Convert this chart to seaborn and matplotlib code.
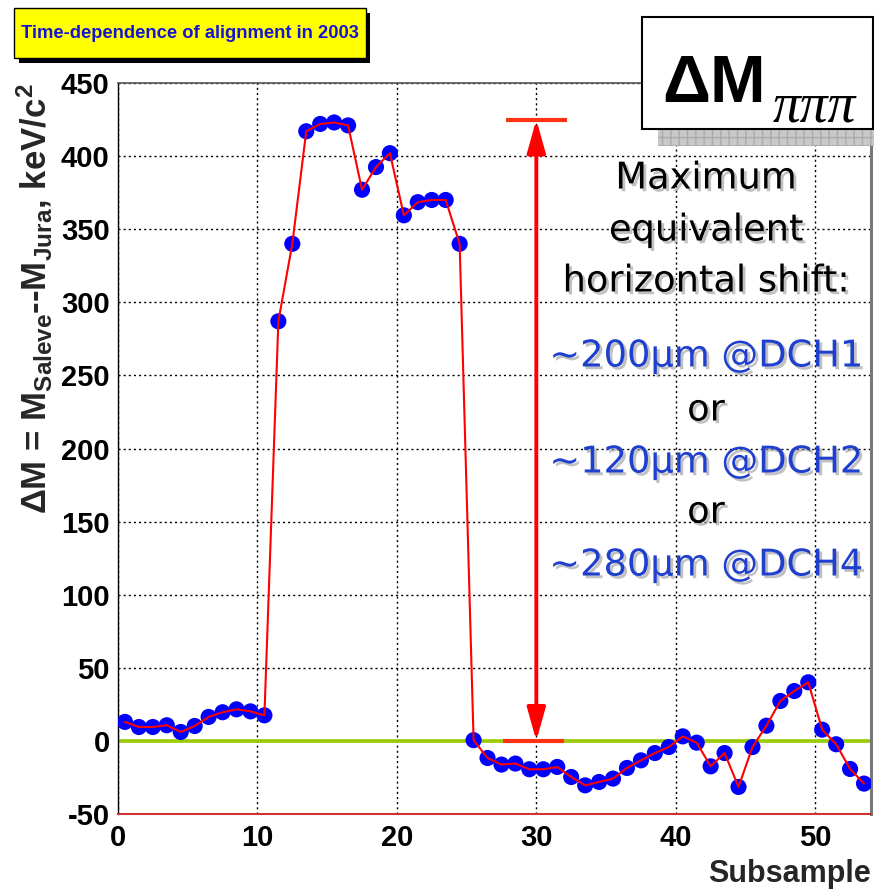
import matplotlib
matplotlib.use("Agg")
import matplotlib.pyplot as plt
import seaborn as sns
import numpy as np
import pandas as pd
from matplotlib.patches import Rectangle
from matplotlib import patheffects as pe

# ---------------- data ----------------
subsample = np.arange(0.5, 54, 1.0)  # bin centres 0.5 .. 53.5
delta_m = [13, 9.5, 9.5, 10.7, 6.1, 10.2, 16.4, 19.6, 21.6, 20.2, 17.5,
           287, 340, 417, 422, 423, 421, 377, 392.5, 402, 359.5, 368.5, 370, 370, 340,
           0.5, -11.7, -16.2, -15.5, -19.4, -19.4, -17.8, -24.7, -30.4, -28.1,
           -25.8, -18.5, -13.3, -8.3, -4.2, 3.1, -1.2, -17.4, -8.3, -31.5,
           -4.2, 10.4, 27.3, 34.1, 40.1, 7.7, -2.3, -19.2, -29.2]
xticks = [0, 10, 20, 30, 40, 50]
yticks = [-50, 0, 50, 100, 150, 200, 250, 300, 350, 400, 450]
arrow_x = 30
arrow_top = 425
arrow_bottom = 0

title_text = "Time-dependence of alignment in 2003"
ylabel_text = "ΔM = M$_{\\rm Saleve}$--M$_{\\rm Jura}$, keV/c$^{\\rm 2}$"
xlabel_text = "Subsample"
note_black = ["Maximum", "equivalent", "horizontal shift:"]
note_lines = [("~200μm @DCH1", "blue"), ("or", "black"), ("~120μm @DCH2", "blue"),
              ("or", "black"), ("~280μm @DCH4", "blue")]

df = pd.DataFrame({"subsample": subsample, "dm": delta_m})

# ---------------- style ----------------
sns.set_theme(style="white")
plt.rcParams["font.family"] = ["Liberation Sans", "DejaVu Sans"]
plt.rcParams["axes.unicode_minus"] = False
plt.rcParams["mathtext.fontset"] = "custom"
plt.rcParams["mathtext.rm"] = "Liberation Sans:bold"
plt.rcParams["mathtext.bf"] = "Liberation Sans:bold"
plt.rcParams["mathtext.it"] = "Liberation Sans:bold:italic"

W, H = 874, 889
fig = plt.figure(figsize=(W / 100, H / 100), dpi=100)
fig.patch.set_facecolor("white")

def fx(px):
    return px / W

def fy(py):
    return 1 - py / H

ax = fig.add_axes([fx(118), fy(814), fx(871) - fx(118), fy(83) - fy(814)])
ax.set_facecolor("white")
ax.set_xlim(0, 54)
ax.set_ylim(-50, 450)

# grid
ax.set_xticks(xticks)
ax.set_yticks(yticks)
ax.set_xticks(np.arange(0, 55, 2), minor=True)
ax.set_yticks(np.arange(-50, 451, 10), minor=True)
ax.grid(True, which="major", color="black", linestyle=(0, (1.5, 2.2)), linewidth=1.0, zorder=0)
ax.set_axisbelow(True)

# zero line
ax.axhline(0, color="#99cc00", lw=2.6, zorder=2)

# data
sns.scatterplot(data=df, x="subsample", y="dm", ax=ax, color="#0000ff", s=135,
                edgecolor="none", zorder=3, legend=False)
sns.lineplot(data=df, x="subsample", y="dm", ax=ax, color="#ff0000", lw=1.5,
             zorder=4, legend=False)

# arrow and bars
ax.annotate("", xy=(arrow_x, arrow_bottom), xytext=(arrow_x, arrow_top),
            arrowprops=dict(arrowstyle="<|-|>,head_length=1.0,head_width=0.28",
                            color="#ff0000", lw=2.8, mutation_scale=20,
                            shrinkA=0, shrinkB=0), zorder=6)
ax.plot([arrow_x - 2.2, arrow_x + 2.2], [arrow_top, arrow_top], color="#ff3311",
        lw=3, solid_capstyle="butt", zorder=6)
ax.plot([arrow_x - 2.4, arrow_x + 2.0], [arrow_bottom, arrow_bottom], color="#ff3311",
        lw=3, solid_capstyle="butt", zorder=6)

# spines / ticks
for s in ["left", "top", "right", "bottom"]:
    ax.spines[s].set_visible(True)
ax.spines["left"].set_color("black")
ax.spines["left"].set_linewidth(1.0)
ax.spines["top"].set_color("#555555")
ax.spines["top"].set_linewidth(1.2)
ax.spines["right"].set_color("#777777")
ax.spines["right"].set_linewidth(2.2)
ax.spines["bottom"].set_color("#cc3333")
ax.spines["bottom"].set_linewidth(1.5)

ax.tick_params(axis="both", which="both", direction="in", colors="black")
ax.tick_params(axis="x", which="major", length=18, width=1.0, pad=7, labelsize=21)
ax.tick_params(axis="x", which="minor", length=8, width=1.0)
ax.tick_params(axis="y", which="major", length=14, width=1.0, pad=6, labelsize=21)
ax.tick_params(axis="y", which="minor", length=7, width=1.0)
ax.set_xticklabels([str(t) for t in xticks], fontweight="bold")
ax.set_yticklabels([str(t) for t in yticks], fontweight="bold")
ax.set_xlabel("")
ax.set_ylabel(ylabel_text, fontsize=25, fontweight="bold", loc="top")
ax.yaxis.set_label_coords(-0.085, 1.0)

fig.text(fx(871), fy(882), xlabel_text, ha="right", va="baseline",
         fontsize=22, fontweight="bold")

# title box
fig.add_artist(Rectangle((fx(19), fy(63)), fx(370) - fx(19), fy(13) - fy(63),
                         transform=fig.transFigure, facecolor="black",
                         edgecolor="none", zorder=10))
fig.add_artist(Rectangle((fx(14), fy(58)), fx(366) - fx(14), fy(8) - fy(58),
                         transform=fig.transFigure, facecolor="#ffff00",
                         edgecolor="black", lw=1, zorder=11))
fig.text(fx(190), fy(33), title_text, ha="center", va="center", fontsize=13.2,
         fontweight="bold", color="#1414d2", zorder=12)

# Delta M box
fig.add_artist(Rectangle((fx(658), fy(146)), fx(874) - fx(658), fy(129) - fy(146),
                         transform=fig.transFigure, facecolor="#c8c8c8",
                         edgecolor="#aaaaaa", hatch="++", lw=0, zorder=10))
fig.add_artist(Rectangle((fx(642), fy(129)), fx(873) - fx(642), fy(17) - fy(129),
                         transform=fig.transFigure, facecolor="white",
                         edgecolor="black", lw=1.5, zorder=11))
fig.text(fx(662), fy(102), "ΔM", ha="left", va="baseline", fontsize=48,
         fontweight="bold", color="black", zorder=12)
fig.text(fx(773), fy(121), "πππ", ha="left", va="baseline", fontsize=40,
         style="italic", color="black", family=["Liberation Serif", "DejaVu Serif"],
         zorder=12)

# annotation text
shadow = [pe.SimplePatchShadow(offset=(2, -2), shadow_rgbFace="#999999", alpha=0.6),
          pe.Normal()]
ys = [178, 230, 281]
for t, y in zip(note_black, ys):
    fig.text(fx(706), fy(y), t, ha="center", va="center", fontsize=26.5,
             family="DejaVu Sans", color="black", path_effects=shadow, zorder=12)
ys2 = [356, 410, 462, 512, 565]
for (t, c), y in zip(note_lines, ys2):
    col = "#1f3fcf" if c == "blue" else "black"
    fig.text(fx(706), fy(y), t, ha="center", va="center", fontsize=26.5,
             family="DejaVu Sans", color=col, path_effects=shadow, zorder=12)

fig.savefig("out.png", dpi=100, facecolor="white")
